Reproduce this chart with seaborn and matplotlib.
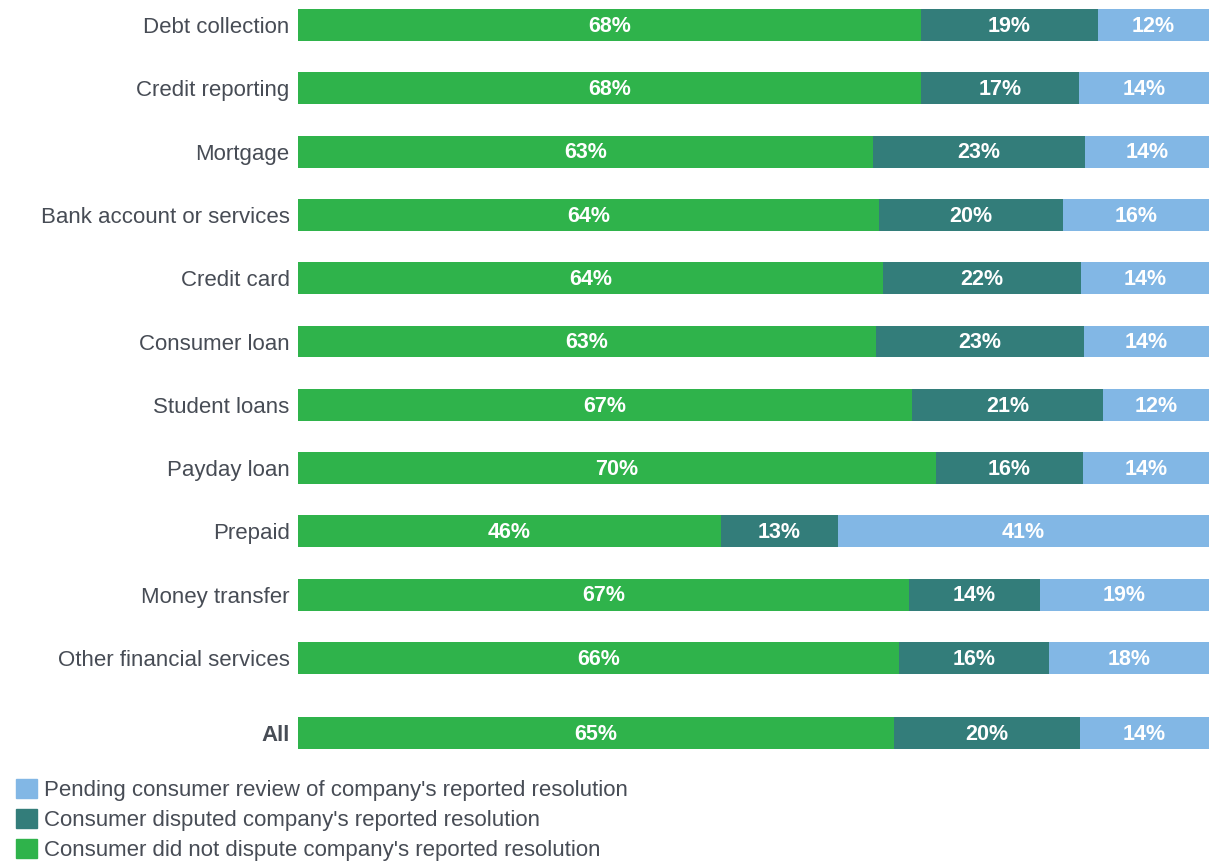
import numpy as np
import pandas as pd
import matplotlib
matplotlib.use("Agg")
import matplotlib.pyplot as plt
import matplotlib.patches as mpatches
import seaborn as sns

# shares of complaints per product (percent)
products = ["Debt collection", "Credit reporting", "Mortgage", "Bank account or services",
            "Credit card", "Consumer loan", "Student loans", "Payday loan", "Prepaid",
            "Money transfer", "Other financial services", "All"]
not_disputed = [68.4, 68.4, 63.1, 63.8, 64.2, 63.4, 67.4, 70.0, 46.4, 67.1, 66.0, 65.4]
disputed = [19.4, 17.3, 23.3, 20.2, 21.8, 22.9, 21.0, 16.2, 12.9, 14.3, 16.4, 20.4]
pending = [12.2, 14.3, 13.6, 16.0, 14.0, 13.7, 11.6, 13.8, 40.7, 18.6, 17.6, 14.2]

GREEN = "#2fb34b"
TEAL = "#337d7a"
BLUE = "#82b7e5"
TEXT = "#474c55"

sns.set_theme(style="white")
plt.rcParams['font.family'] = ['Liberation Sans', 'DejaVu Sans']

# row positions, with a little extra space before "All"
ypos = np.arange(len(products), dtype=float)
ypos[-1] += 0.185

df = pd.DataFrame({"product": products, "y": ypos,
                   "green": not_disputed, "teal": disputed, "blue": pending})
df["c1"] = df["green"]
df["c2"] = df["green"] + df["teal"]
df["c3"] = df["c2"] + df["blue"]

fig = plt.figure(figsize=(12.09, 8.65), dpi=100)
ax = fig.add_axes([0.2465, 0.1156, 0.7535, 0.8844])

# stacked bars by overlaying cumulative totals
for col, color in [("c3", BLUE), ("c2", TEAL), ("c1", GREEN)]:
    sns.barplot(data=df, x=col, y="y", orient="y", native_scale=True, color=color,
                width=0.505, errorbar=None, saturation=1, linewidth=0, ax=ax)

# segment labels
for _, r in df.iterrows():
    starts = [0, r["c1"], r["c2"]]
    for s, v in zip(starts, [r["green"], r["teal"], r["blue"]]):
        ax.text(s + v / 2, r["y"] + 0.02, f"{v:.0f}%", ha="center", va="center",
                color="white", fontsize=15.5, fontweight="bold")

ax.set_xlim(0, 100)
ax.set_ylim(11.69, -0.395)
ax.set_yticks(ypos)
ax.set_yticklabels(products, fontsize=16, color=TEXT)
ax.get_yticklabels()[-1].set_fontweight("bold")
ax.tick_params(axis="y", length=0, pad=6)
ax.set_xticks([])
ax.set_xlabel("")
ax.set_ylabel("")
sns.despine(ax=ax, left=True, bottom=True)

handles = [mpatches.Patch(color=BLUE, label="Pending consumer review of company's reported resolution"),
           mpatches.Patch(color=TEAL, label="Consumer disputed company's reported resolution"),
           mpatches.Patch(color=GREEN, label="Consumer did not dispute company's reported resolution")]
leg = fig.legend(handles=handles, loc="lower left", bbox_to_anchor=(0.006, -0.006),
                 frameon=False, fontsize=16, handlelength=0.95, handleheight=0.95,
                 handletextpad=0.32, labelspacing=0.36, borderaxespad=0)
for t in leg.get_texts():
    t.set_color(TEXT)

fig.savefig("out.png", dpi=100)
